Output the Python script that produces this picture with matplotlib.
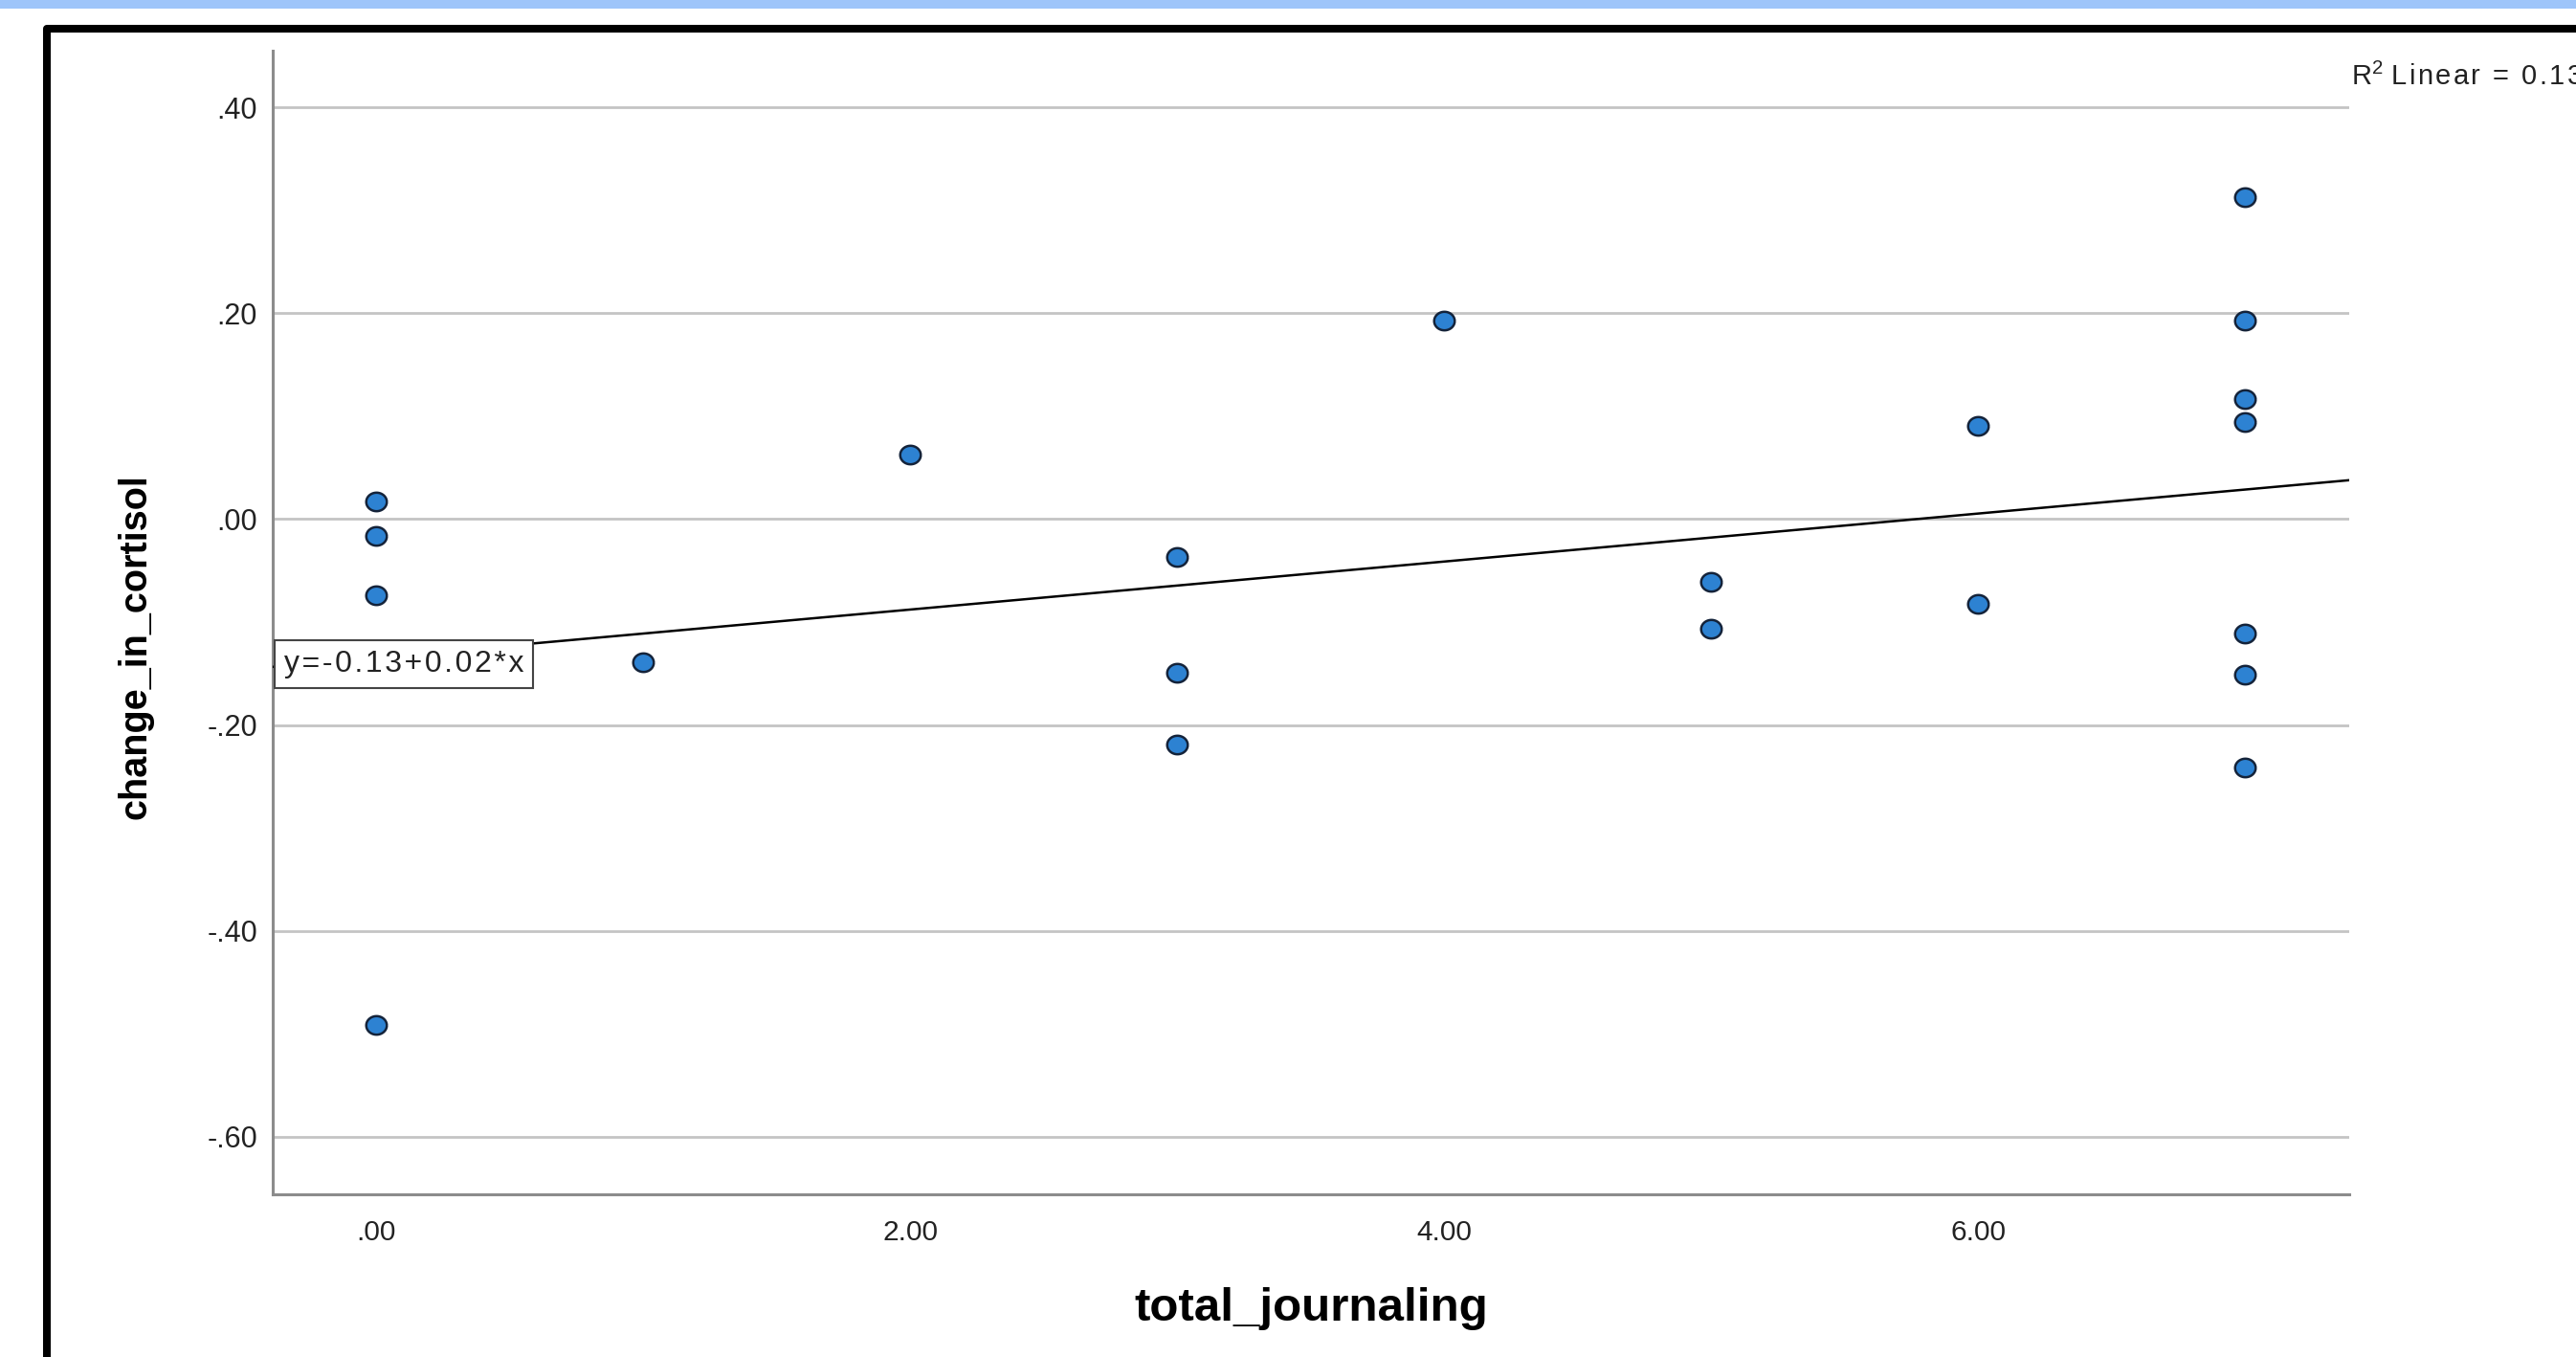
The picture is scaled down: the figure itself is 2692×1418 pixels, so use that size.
import matplotlib
matplotlib.use("Agg")
import matplotlib.pyplot as plt
import numpy as np
from matplotlib.patches import Rectangle
from matplotlib.path import Path

plt.rcParams['font.family'] = ['Liberation Sans', 'DejaVu Sans']
plt.rcParams['mathtext.default'] = 'regular'

# data (total_journaling vs change_in_cortisol)
total_journaling = [0, 0, 0, 0, 1, 2, 3, 3, 3, 4, 5, 5, 6, 6, 7, 7, 7, 7, 7, 7, 7]
change_in_cortisol = [0.017, -0.016, -0.074, -0.491, -0.139, 0.063, -0.037, -0.149, -0.219,
                      0.193, -0.061, -0.107, 0.091, -0.082, 0.313, 0.193, 0.117, 0.094,
                      -0.111, -0.151, -0.241]
y_ticks = [0.40, 0.20, 0.00, -0.20, -0.40, -0.60]
x_ticks = [0, 2, 4, 6]

W, H = 2692, 1418
fig = plt.figure(figsize=(W / 100, H / 100), dpi=100)
fig.patch.set_facecolor('white')

# blue strip at the very top and black frame
fig.add_artist(Rectangle((0, 1 - 9 / H), 1, 9 / H, transform=fig.transFigure,
                         color='#9ec5fa', lw=0))
fig.add_artist(Rectangle((49 / W, -0.2), 2, 1.2 - 30 / H, transform=fig.transFigure,
                         fill=False, ec='black', lw=5.8, joinstyle='round'))

ax = fig.add_axes([285 / W, 1 - 1248 / H, 2170 / W, 1195 / H])
ax.set_xlim(-0.387, 7.39)
ax.set_ylim(-0.656, 0.455)

for s in ['top', 'right']:
    ax.spines[s].set_visible(False)
for s in ['left', 'bottom']:
    ax.spines[s].set_color('#8c8c8c')
    ax.spines[s].set_linewidth(2.2)

ax.set_yticks(y_ticks)
ax.set_yticklabels([f"{v:.2f}".replace("0.", ".") for v in y_ticks])
ax.set_xticks(x_ticks)
ax.set_xticklabels([".00" if v == 0 else f"{v:.2f}" for v in x_ticks])
ax.tick_params(axis='y', length=0, pad=11.5, labelsize=22, labelcolor='#222222')
ax.tick_params(axis='x', length=0, pad=19, labelsize=21.5, labelcolor='#222222')
ax.grid(axis='y', color='#c4c4c4', lw=2.0)
ax.set_axisbelow(True)

# regression line from the points
x = np.array(total_journaling, dtype=float)
y = np.array(change_in_cortisol)
slope, intercept = np.polyfit(x, y, 1)
r2 = np.corrcoef(x, y)[0, 1] ** 2
xl = np.array(ax.get_xlim())
ax.plot(xl, intercept + slope * xl, color='black', lw=1.8, zorder=3)

# slightly flattened circle like the spss markers
t = np.linspace(0, 2 * np.pi, 60)
ell = Path(np.column_stack([np.cos(t), 0.9 * np.sin(t)]))
ax.plot(x, y, ls='none', marker=ell, ms=15.5, mfc='#2d82d2', mec='#14233a', mew=1.8,
        zorder=4, clip_on=False)

hs = '\u200a'
eq = hs.join(f"y={intercept:.2f}+{slope:.2f}*x")
fig.text(297 / W, 1 - 694 / H, eq, fontsize=23, color='#222222', va='center', ha='left',
         bbox=dict(boxstyle='square,pad=0.3', fc='white', ec='#444444', lw=1.5), zorder=10)

fig.text(2457 / W, 1 - 89 / H, hs.join("R") + "$^2$ " + hs.join(f"Linear = {r2:.3f}"),
         fontsize=21, color='#222222', va='baseline', ha='left')

fig.text(1370 / W, 1 - 1367 / H, "total_journaling", fontsize=35.5, fontweight='bold',
         ha='center', va='center')
fig.text(141 / W, 1 - 676 / H, "change_in_cortisol", fontsize=28.5, fontweight='bold',
         rotation=90, ha='center', va='center')

fig.savefig('out.png', dpi=100, facecolor='white')
